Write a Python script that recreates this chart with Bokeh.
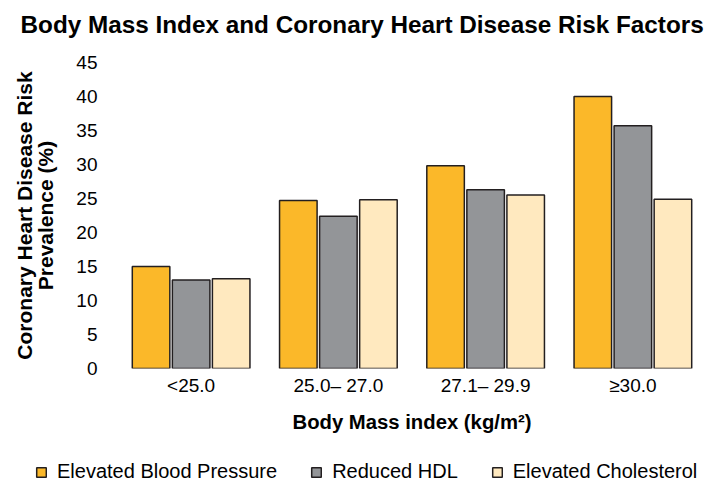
from bokeh.plotting import figure
from bokeh.layouts import column
from bokeh.models import Range1d, FactorRange, FixedTicker, Legend, LegendItem, ColumnDataSource, Title
from bokeh.transform import dodge
from bokeh.embed import file_html
from bokeh.resources import INLINE

categories = ["<25.0", "25.0\u2013 27.0", "27.1\u2013 29.9", "\u226530.0"]
series_names = ["Elevated Blood Pressure", "Reduced HDL", "Elevated Cholesterol"]
blood_pressure = [15.0, 24.7, 29.8, 40.0]
reduced_hdl = [13.0, 22.4, 26.3, 35.7]
cholesterol = [13.2, 24.8, 25.5, 24.9]
y_ticks = [0, 5, 10, 15, 20, 25, 30, 35, 40, 45]
colors = ["#FBB829", "#939598", "#FFE9BF"]

FONT = "Liberation Sans"
EDGE = "#231F20"

src = ColumnDataSource(dict(cat=categories, bp=blood_pressure, hdl=reduced_hdl, chol=cholesterol))
fields = ["bp", "hdl", "chol"]

p = figure(x_range=FactorRange(*categories, range_padding=0), y_range=Range1d(0, 45),
           width=711, height=450, output_backend="svg", toolbar_location=None,
           min_border_left=117, min_border_right=5, min_border_top=62, min_border_bottom=82)
p.frame_align = False

# spacer between title and frame, then the main title (outermost)
p.add_layout(Title(text=" ", text_font_size="1px", standoff=17), "above")
p.add_layout(Title(text="Body Mass Index and Coronary Heart Disease Risk Factors",
                   text_font=FONT, text_font_size="24.3px", text_font_style="bold",
                   text_color="#000000", align="left", vertical_align="bottom",
                   offset=-97, standoff=10), "above")

p.outline_line_color = None
p.xgrid.grid_line_color = None
p.ygrid.grid_line_color = None

offsets = [-0.272, 0.0, 0.272]
for off, fld, col in zip(offsets, fields, colors):
    p.vbar(x=dodge("cat", off, range=p.x_range), top=fld, width=0.255, source=src,
           fill_color=col, line_color=EDGE, line_width=1.5)

# axes
p.yaxis.ticker = FixedTicker(ticks=y_ticks)
for ax in (p.xaxis[0], p.yaxis[0]):
    ax.axis_line_color = None
    ax.major_tick_line_color = None
    ax.minor_tick_line_color = None
    ax.major_tick_out = 0
    ax.major_tick_in = 0
    ax.minor_tick_out = 0
    ax.minor_tick_in = 0
    ax.major_label_text_font = FONT
    ax.major_label_text_font_size = "19px"
    ax.major_label_text_color = "#000000"
    ax.axis_label_text_font = FONT
    ax.axis_label_text_font_style = "bold"
    ax.axis_label_text_color = "#000000"

p.yaxis.major_label_standoff = 20
p.yaxis.axis_label = "Coronary Heart Disease Risk\nPrevalence (%)"
p.yaxis.axis_label_text_font_size = "21px"
p.yaxis.axis_label_text_line_height = 0.95
p.yaxis.axis_label_standoff = 16
p.xaxis.major_label_standoff = 6
p.xaxis.axis_label = "Body Mass index (kg/m\u00b2)"
p.xaxis.axis_label_text_font_size = "20.3px"
p.xaxis.axis_label_standoff = 12

# legend strip below the chart: its renderers are muted with invisible muted glyphs,
# so only the legend entries show
lg = figure(width=711, height=32, output_backend="svg", toolbar_location=None,
            x_range=FactorRange(*categories), y_range=Range1d(0, 45),
            x_axis_location=None, y_axis_location=None,
            min_border_left=0, min_border_right=0, min_border_top=0, min_border_bottom=0)
lg.frame_align = False
lg.outline_line_color = None
lg.xgrid.grid_line_color = None
lg.ygrid.grid_line_color = None
items = []
for name, fld, col in zip(series_names, fields, colors):
    r = lg.vbar(x="cat", top=fld, width=0.2, source=src,
                fill_color=col, line_color=EDGE, line_width=1.5,
                muted_fill_alpha=0, muted_line_alpha=0)
    r.muted = True
    items.append(LegendItem(label=name, renderers=[r]))

legend = Legend(items=items, orientation="horizontal", location=(35, -1),
                glyph_width=12, glyph_height=12, label_standoff=10, spacing=33,
                padding=0, margin=0, border_line_color=None, background_fill_alpha=0,
                click_policy="none",
                label_text_font=FONT, label_text_font_size="20px", label_text_color="#000000")
lg.add_layout(legend)

layout = column(p, lg, spacing=0)

open("out.html", "w").write(file_html(layout, INLINE))
